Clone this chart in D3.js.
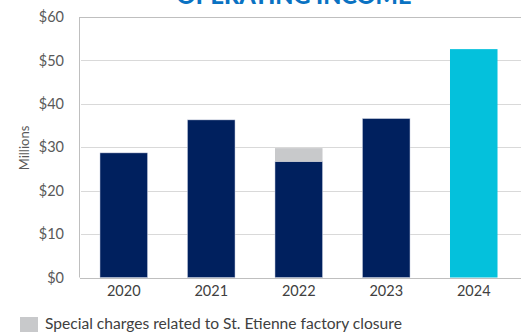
<!DOCTYPE html>
<html>
<head>
<meta charset="utf-8">
<script src="https://cdn.jsdelivr.net/npm/d3@7"></script>
<style>
  html, body { margin: 0; padding: 0; background: #ffffff; }
  svg { display: block; font-family: Lato, "Open Sans", sans-serif; }
</style>
</head>
<body>
<svg id="chart" width="526" height="332"></svg>
<script>
// Operating income by year, in millions of dollars
const years = ["2020", "2021", "2022", "2023", "2024"];
const operatingIncome = [28.7, 36.3, 26.7, 36.6, 52.6];
// Special charges (St. Etienne factory closure), stacked on top
const specialCharges = [0, 0, 3.1, 0, 0];
const yTicks = [0, 10, 20, 30, 40, 50, 60];
const legendLabel = "Special charges related to St. Etienne factory closure";
const titleText = "OPERATING INCOME";

const svg = d3.select("#chart");
const plotLeft = 80, plotRight = 517.5, plotTop = 17, plotBottom = 277.5, gridEnd = 521;

const x = d3.scaleBand()
  .domain(years)
  .range([plotLeft, plotRight])
  .paddingInner(0.457)
  .paddingOuter(0.2285);

const y = d3.scaleLinear().domain([0, 60]).range([plotBottom, plotTop]);

// Title (runs off the top edge)
svg.append("text")
  .attr("x", 294)
  .attr("y", 4)
  .attr("text-anchor", "middle")
  .attr("fill", "#0a72c2")
  .attr("font-size", 23.5)
  .attr("font-weight", 900)
  .text(titleText);

// Horizontal gridlines
svg.append("g")
  .selectAll("line")
  .data(yTicks.filter(d => d > 0 && d < 60))
  .join("line")
  .attr("x1", plotLeft + 1)
  .attr("x2", gridEnd)
  .attr("y1", d => Math.round(y(d)) + 0.5)
  .attr("y2", d => Math.round(y(d)) + 0.5)
  .attr("stroke", "#d9d9d9")
  .attr("stroke-width", 1.2);

// Frame: top and left
svg.append("line")
  .attr("x1", plotLeft).attr("x2", gridEnd)
  .attr("y1", Math.round(y(60)) + 0.5).attr("y2", Math.round(y(60)) + 0.5)
  .attr("stroke", "#bfbfbf");
svg.append("line")
  .attr("x1", plotLeft - 0.5).attr("x2", plotLeft - 0.5)
  .attr("y1", y(60)).attr("y2", y(0))
  .attr("stroke", "#bfbfbf");

// Y axis labels
const yAxis = d3.axisLeft(y)
  .tickValues(yTicks)
  .tickFormat(d => "$" + d)
  .tickSize(0)
  .tickPadding(16);
const gy = svg.append("g")
  .attr("transform", `translate(${plotLeft},0)`)
  .call(yAxis);
gy.select(".domain").remove();
gy.selectAll("text")
  .attr("fill", "#595959")
  .attr("font-size", 14.5)
  .attr("font-family", "Lato, sans-serif");

// Y axis title
svg.append("text")
  .attr("transform", "translate(29,148) rotate(-90)")
  .attr("text-anchor", "middle")
  .attr("fill", "#595959")
  .attr("font-size", 13)
  .text("Millions");

// Bars: operating income
svg.append("g")
  .selectAll("rect")
  .data(years.map((yr, i) => ({ yr, v: operatingIncome[i], i })))
  .join("rect")
  .attr("x", d => x(d.yr))
  .attr("width", x.bandwidth())
  .attr("y", d => y(d.v))
  .attr("height", d => y(0) - y(d.v))
  .attr("fill", d => d.yr === "2024" ? "#04c1dc" : "#00205e")
  .attr("stroke", d => d.yr === "2024" ? "none" : "#c9cfe0")
  .attr("stroke-width", 0.5);

// Bars: special charges stacked above
svg.append("g")
  .selectAll("rect")
  .data(years.map((yr, i) => ({ yr, base: operatingIncome[i], v: specialCharges[i] })).filter(d => d.v > 0))
  .join("rect")
  .attr("x", d => x(d.yr))
  .attr("width", x.bandwidth())
  .attr("y", d => y(d.base + d.v))
  .attr("height", d => y(d.base) - y(d.base + d.v))
  .attr("fill", "#c8c9cb");

// Baseline
svg.append("line")
  .attr("x1", plotLeft).attr("x2", gridEnd)
  .attr("y1", Math.round(y(0)) + 0.5).attr("y2", Math.round(y(0)) + 0.5)
  .attr("stroke", "#bfbfbf");

// X axis labels
const xAxis = d3.axisBottom(x).tickSize(0).tickPadding(8);
const gx = svg.append("g")
  .attr("transform", `translate(0,${plotBottom})`)
  .call(xAxis);
gx.select(".domain").remove();
gx.selectAll("text")
  .attr("fill", "#404040")
  .attr("font-size", 14.5)
  .attr("font-family", "Lato, sans-serif");

// Legend
svg.append("rect")
  .attr("x", 20).attr("y", 317)
  .attr("width", 18).attr("height", 18)
  .attr("fill", "#c8c9cb");
svg.append("text")
  .attr("x", 45)
  .attr("y", 328.5)
  .attr("fill", "#404040")
  .attr("font-size", 15.6)
  .text(legendLabel);
</script>
</body>
</html>
